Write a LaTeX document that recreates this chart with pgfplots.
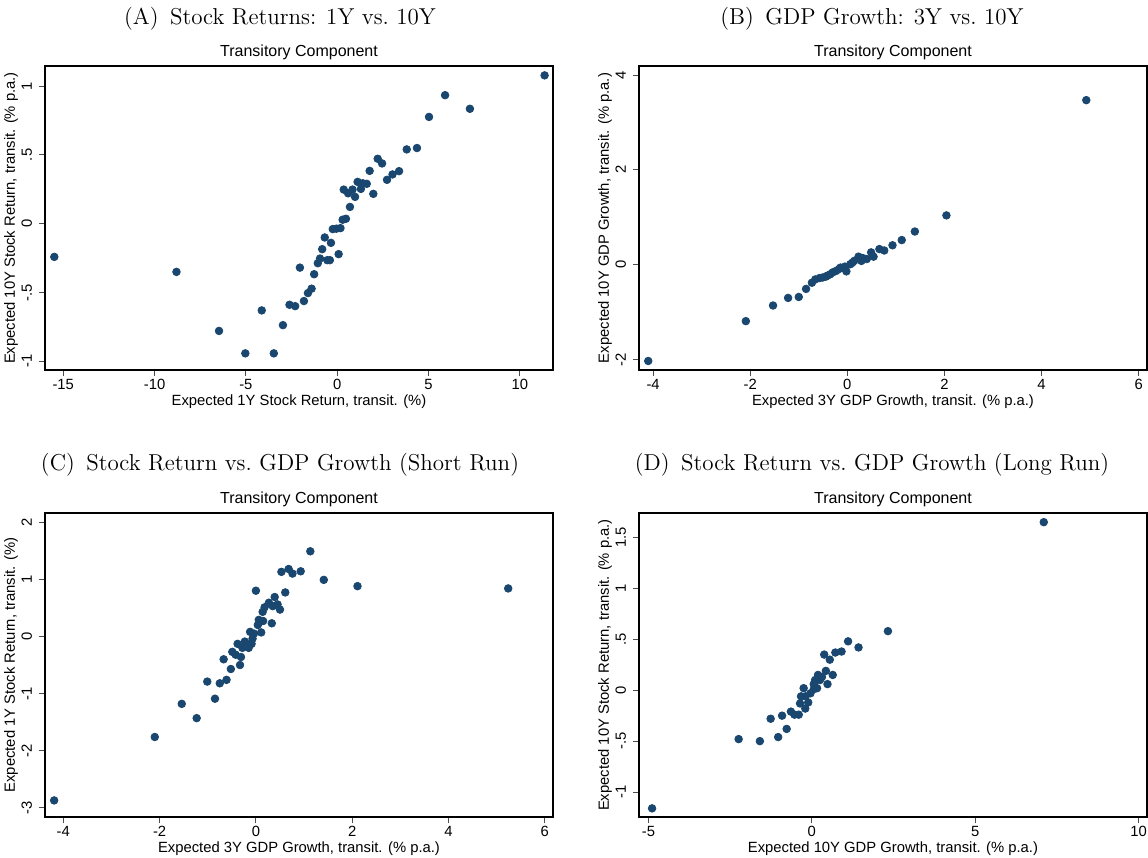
\documentclass[border=0pt]{standalone}
\usepackage{fontspec}
\setsansfont{Liberation Sans}
\usepackage{pgfplots}
\pgfplotsset{compat=1.18}
\definecolor{navy}{HTML}{1A476F}

\newcommand{\axfont}{\sffamily\fontsize{7.4}{8.5}\selectfont}
\newcommand{\subfont}{\sffamily\fontsize{8}{9}\selectfont}
\newcommand{\capfont}{\fontsize{11.5}{13}\selectfont}
\pgfplotsset{
  panel/.style={
    scale only axis, width=254pt, height=152pt, anchor=north west,
    axis line style={line width=0.6pt, black},
    tick align=outside, major tick length=3pt,
    tick style={line width=0.5pt, black!70},
    xtick pos=bottom, ytick pos=left,
    label style={font=\axfont},
    tick label style={font=\axfont},
    xticklabel style={anchor=center, yshift=-4pt},
    yticklabel style={rotate=90, anchor=south},
    xlabel style={at={(axis description cs:0.5,-0.104)}, anchor=center},
    ylabel style={at={(axis description cs:-0.067,0.5)}, anchor=center},
  },
  pts/.style={only marks, mark=*, mark size=1.9pt, draw=navy, fill=navy},
}

\begin{document}
\begin{tikzpicture}
\path[use as bounding box] (0,0) rectangle (574pt,-429pt);

\node[font=\capfont] at (140pt,-9.5pt) {(A)\hspace{0.5em}Stock Returns: 1Y vs.\ 10Y};
\node[font=\capfont] at (436pt,-9.5pt) {(B)\hspace{0.5em}GDP Growth: 3Y vs.\ 10Y};
\node[font=\capfont] at (140pt,-232.5pt) {(C)\hspace{0.5em}Stock Return vs.\ GDP Growth (Short Run)};
\node[font=\capfont] at (436pt,-232.5pt) {(D)\hspace{0.5em}Stock Return vs.\ GDP Growth (Long Run)};

\node[font=\subfont] at (149.5pt,-26pt) {Transitory Component};
\node[font=\subfont] at (446.5pt,-26pt) {Transitory Component};
\node[font=\subfont] at (149.5pt,-249.5pt) {Transitory Component};
\node[font=\subfont] at (446.5pt,-249.5pt) {Transitory Component};

% (A)
\begin{axis}[panel, at={(22.5pt,-33pt)},
  xmin=-16.0, xmax=11.82, ymin=-1.063, ymax=1.146,
  xtick={-15,-10,-5,0,5,10}, xticklabels={-15,-10,-5,0,5,10},
  ytick={-1,-0.5,0,0.5,1}, yticklabels={-1,-.5,0,.5,1},
  xlabel={Expected 1Y Stock Return, transit. (\%)},
  ylabel={Expected 10Y Stock Return, transit. (\% p.a.)}]
\addplot[pts] coordinates {
(11.36,1.078) (5.91,0.934) (7.27,0.835) (5.03,0.776) (3.81,0.540) (4.37,0.550)
(2.22,0.472) (2.46,0.438) (1.78,0.384) (3.39,0.382) (3.03,0.358) (2.73,0.319)
(1.12,0.304) (1.40,0.294) (1.62,0.290) (1.30,0.253) (0.36,0.248) (0.84,0.248)
(0.60,0.221) (1.98,0.217) (0.98,0.195) (0.70,0.122) (0.48,0.036) (0.30,0.029)
(-0.24,-0.039) (-0.04,-0.036) (0.18,-0.032) (-0.68,-0.100) (-0.34,-0.139)
(-0.82,-0.185) (0.08,-0.221) (-0.94,-0.253) (-0.54,-0.265) (-0.40,-0.265)
(-1.06,-0.287) (-2.04,-0.319) (-1.26,-0.367) (-1.40,-0.472) (-1.60,-0.504)
(-1.82,-0.562) (-2.61,-0.589) (-2.30,-0.599) (-4.13,-0.630) (-2.97,-0.737)
(-6.47,-0.779) (-5.03,-0.942) (-3.47,-0.942) (-15.49,-0.241) (-8.80,-0.350)
};
\end{axis}

% (B)
\begin{axis}[panel, at={(319.5pt,-33pt)},
  xmin=-4.29, xmax=6.17, ymin=-2.22, ymax=4.19,
  xtick={-4,-2,0,2,4,6}, xticklabels={-4,-2,0,2,4,6},
  ytick={-2,0,2,4}, yticklabels={-2,0,2,4},
  xlabel={Expected 3Y GDP Growth, transit. (\% p.a.)},
  ylabel={Expected 10Y GDP Growth, transit. (\% p.a.)}]
\addplot[pts] coordinates {
(4.92,3.47) (2.04,1.04) (1.39,0.70) (1.12,0.52) (0.93,0.41) (0.76,0.30)
(0.66,0.33) (0.54,0.17) (0.49,0.26) (0.32,0.14) (0.23,0.17) (0.14,0.08)
(0.06,0.01) (-0.02,-0.14) (-0.14,-0.06) (-0.23,-0.13) (-0.35,-0.20)
(-0.44,-0.25) (-0.57,-0.28) (-0.66,-0.31) (-0.73,-0.38) (-0.85,-0.51)
(-1.00,-0.68) (-1.22,-0.70) (-1.53,-0.86) (-2.09,-1.19) (-4.10,-2.03)
(0.40,0.12) (0.29,0.08) (-0.05,-0.04) (-0.30,-0.16) (-0.51,-0.27)
(0.10,0.04) (-0.17,-0.09) (-0.41,-0.23)
};
\end{axis}

% (C)
\begin{axis}[panel, at={(22.5pt,-256.5pt)},
  xmin=-4.38, xmax=6.17, ymin=-3.16, ymax=2.16,
  xtick={-4,-2,0,2,4,6}, xticklabels={-4,-2,0,2,4,6},
  ytick={-3,-2,-1,0,1,2}, yticklabels={-3,-2,-1,0,1,2},
  xlabel={Expected 3Y GDP Growth, transit. (\% p.a.)},
  ylabel={Expected 1Y Stock Return, transit. (\%)}]
\addplot[pts] coordinates {
(1.13,1.49) (0.53,1.13) (0.68,1.18) (0.76,1.10) (0.93,1.14) (1.41,0.99)
(2.11,0.88) (5.24,0.84) (0.00,0.80) (0.61,0.77) (0.39,0.69) (0.27,0.59)
(0.45,0.56) (0.18,0.51) (0.35,0.53) (0.50,0.47) (0.14,0.43) (0.06,0.29)
(0.15,0.27) (0.04,0.20) (0.33,0.23) (-0.12,0.08) (0.11,0.07) (-0.04,0.05)
(-0.07,-0.04) (-0.23,-0.09) (-0.38,-0.13) (-0.15,-0.20) (-0.28,-0.20)
(-0.49,-0.27) (-0.42,-0.32) (-0.31,-0.36) (-0.67,-0.40) (-0.33,-0.50)
(-0.52,-0.57) (-1.01,-0.79) (-0.61,-0.76) (-0.75,-0.82) (-0.85,-1.09)
(-1.54,-1.18) (-1.23,-1.43) (-2.10,-1.76) (-4.19,-2.87) (-0.20,-0.13)
(-0.09,-0.13)
};
\end{axis}

% (D)
\begin{axis}[panel, at={(319.5pt,-256.5pt)},
  xmin=-5.29, xmax=10.26, ymin=-1.245, ymax=1.74,
  xtick={-5,0,5,10}, xticklabels={-5,0,5,10},
  ytick={-1,-0.5,0,0.5,1,1.5}, yticklabels={-1,-.5,0,.5,1,1.5},
  xlabel={Expected 10Y GDP Growth, transit. (\% p.a.)},
  ylabel={Expected 10Y Stock Return, transit. (\% p.a.)}]
\addplot[pts] coordinates {
(7.10,1.65) (2.33,0.58) (1.11,0.48) (1.43,0.42) (0.38,0.35) (0.72,0.37)
(0.91,0.38) (0.55,0.30) (0.43,0.19) (0.64,0.15) (0.19,0.15) (0.31,0.13)
(0.10,0.10) (0.06,0.06) (0.48,0.06) (0.16,0.02) (-0.25,0.02) (-0.04,-0.03)
(-0.19,-0.06) (-0.33,-0.06) (-0.11,-0.12) (-0.36,-0.13) (-0.20,-0.18)
(-0.64,-0.21) (-0.91,-0.25) (-0.53,-0.24) (-0.40,-0.24) (-1.26,-0.28)
(-0.77,-0.38) (-1.03,-0.46) (-2.24,-0.48) (-1.59,-0.50) (-4.89,-1.16)
(0.06,0.01) (0.25,0.10)
};
\end{axis}
\end{tikzpicture}
\end{document}
